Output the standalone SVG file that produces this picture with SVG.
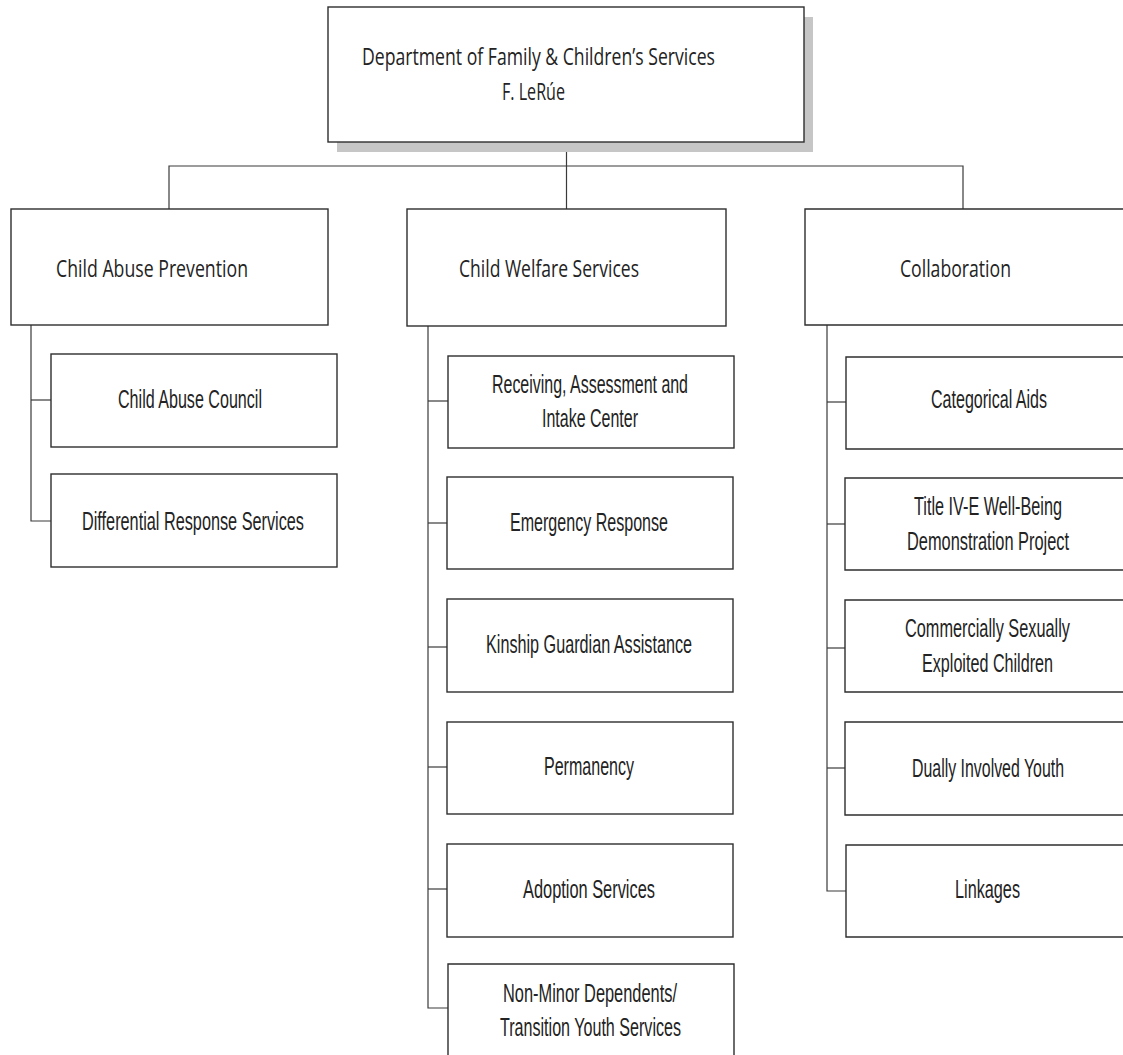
<svg xmlns="http://www.w3.org/2000/svg" width="1123" height="1055" viewBox="0 0 1123 1055">
  <style>
    .box { fill: #ffffff; stroke: #2e2e2e; stroke-width: 1.4; }
    .shadow { fill: #c6c6c6; stroke: none; }
    .wire { fill: none; stroke: #3a3a3a; stroke-width: 1.2; }
    .head { font-family: "Open Sans", "Liberation Sans", sans-serif; font-size: 24px; fill: #232323; }
    .sub { font-family: "Liberation Sans", "DejaVu Sans", sans-serif; font-size: 25px; fill: #232323; }
    .mid { text-anchor: middle; }
  </style>
  <rect width="1123" height="1055" fill="#ffffff"/>

  <!-- connectors -->
  <g id="connectors" class="wire">
    <path d="M566.5 142 V209"/>
    <path d="M169 209 V166 H963 V209"/>
    <!-- Child Abuse Prevention branch -->
    <path d="M31 325 V521 H51"/>
    <path d="M31 400 H51"/>
    <!-- Child Welfare Services branch -->
    <path d="M428 326 V1008 H448"/>
    <path d="M428 401 H448"/>
    <path d="M428 523 H447"/>
    <path d="M428 647 H447"/>
    <path d="M428 767 H447"/>
    <path d="M428 889 H447"/>
    <!-- Collaboration branch -->
    <path d="M827 325 V891 H846"/>
    <path d="M827 402 H846"/>
    <path d="M827 524 H845"/>
    <path d="M827 648 H845"/>
    <path d="M827 768 H845"/>
  </g>

  <!-- root -->
  <g id="dfcs">
    <rect class="shadow" x="337" y="17" width="476" height="135"/>
    <rect class="box" x="328" y="7" width="476" height="135"/>
    <text class="head" x="362" y="65" textLength="353" lengthAdjust="spacingAndGlyphs" font-size="26">Department of Family &amp; Children’s Services</text>
    <text class="head" x="502" y="100" textLength="63" lengthAdjust="spacingAndGlyphs" font-size="26">F. LeRúe</text>
  </g>

  <!-- divisions -->
  <g id="child-abuse-prevention">
    <rect class="box" x="11" y="209" width="317" height="116"/>
    <text class="head" x="56" y="277" textLength="192" lengthAdjust="spacingAndGlyphs">Child Abuse Prevention</text>
  </g>
  <g id="child-welfare-services">
    <rect class="box" x="407" y="209" width="319" height="117"/>
    <text class="head" x="459" y="277" textLength="180" lengthAdjust="spacingAndGlyphs">Child Welfare Services</text>
  </g>
  <!-- right-hand column runs off the page edge: boxes are open on the right -->
  <g id="collaboration">
    <path class="box" d="M1123 209 H805 V325 H1123"/>
    <text class="head mid" x="955.5" y="277" textLength="111" lengthAdjust="spacingAndGlyphs">Collaboration</text>
  </g>

  <!-- Child Abuse Prevention units -->
  <g id="child-abuse-council">
    <rect class="box" x="51" y="354" width="286" height="93"/>
    <text class="sub" x="118" y="408" textLength="144" lengthAdjust="spacingAndGlyphs">Child Abuse Council</text>
  </g>
  <g id="differential-response">
    <rect class="box" x="51" y="474" width="286" height="93"/>
    <text class="sub" x="82" y="530" textLength="222" lengthAdjust="spacingAndGlyphs">Differential Response Services</text>
  </g>

  <!-- Child Welfare Services units -->
  <g id="raic">
    <rect class="box" x="448" y="356" width="286" height="92"/>
    <text class="sub" x="492" y="393" textLength="196" lengthAdjust="spacingAndGlyphs">Receiving, Assessment and</text>
    <text class="sub" x="542" y="427" textLength="96" lengthAdjust="spacingAndGlyphs">Intake Center</text>
  </g>
  <g id="emergency-response">
    <rect class="box" x="447" y="477" width="286" height="92"/>
    <text class="sub" x="510" y="531" textLength="158" lengthAdjust="spacingAndGlyphs">Emergency Response</text>
  </g>
  <g id="kinship">
    <rect class="box" x="447" y="599" width="286" height="93"/>
    <text class="sub" x="486" y="653" textLength="206" lengthAdjust="spacingAndGlyphs">Kinship Guardian Assistance</text>
  </g>
  <g id="permanency">
    <rect class="box" x="447" y="722" width="286" height="92"/>
    <text class="sub" x="544" y="775" textLength="90" lengthAdjust="spacingAndGlyphs">Permanency</text>
  </g>
  <g id="adoption">
    <rect class="box" x="447" y="844" width="286" height="93"/>
    <text class="sub" x="523" y="898" textLength="132" lengthAdjust="spacingAndGlyphs">Adoption Services</text>
  </g>
  <g id="non-minor-dependents">
    <path class="box" d="M448 1055 V964 H734 V1055"/>
    <text class="sub" x="503" y="1002" textLength="174" lengthAdjust="spacingAndGlyphs">Non-Minor Dependents/</text>
    <text class="sub" x="500" y="1036" textLength="181" lengthAdjust="spacingAndGlyphs">Transition Youth Services</text>
  </g>

  <!-- Collaboration units (centred on x = 988) -->
  <g id="categorical-aids">
    <path class="box" d="M1123 357 H846 V449 H1123"/>
    <text class="sub mid" x="989" y="408" textLength="116" lengthAdjust="spacingAndGlyphs">Categorical Aids</text>
  </g>
  <g id="title-iv-e">
    <path class="box" d="M1123 478 H845 V570 H1123"/>
    <text class="sub mid" x="988" y="515" textLength="148" lengthAdjust="spacingAndGlyphs">Title IV-E Well-Being</text>
    <text class="sub mid" x="988" y="550" textLength="162" lengthAdjust="spacingAndGlyphs">Demonstration Project</text>
  </g>
  <g id="csec">
    <path class="box" d="M1123 600 H845 V692 H1123"/>
    <text class="sub mid" x="987.5" y="637" textLength="165" lengthAdjust="spacingAndGlyphs">Commercially Sexually</text>
    <text class="sub mid" x="987.5" y="672" textLength="131" lengthAdjust="spacingAndGlyphs">Exploited Children</text>
  </g>
  <g id="dually-involved">
    <path class="box" d="M1123 722 H845 V815 H1123"/>
    <text class="sub mid" x="988" y="777" textLength="152" lengthAdjust="spacingAndGlyphs">Dually Involved Youth</text>
  </g>
  <g id="linkages">
    <path class="box" d="M1123 845 H846 V937 H1123"/>
    <text class="sub mid" x="987.5" y="898" textLength="65" lengthAdjust="spacingAndGlyphs">Linkages</text>
  </g>
</svg>
